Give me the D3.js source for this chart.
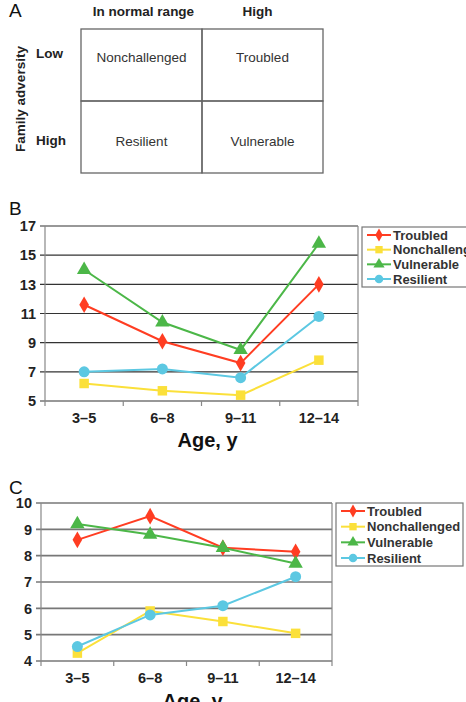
<!DOCTYPE html>
<html>
<head>
<meta charset="utf-8">
<script src="https://cdn.jsdelivr.net/npm/d3@7"></script>
<style>
  body { margin: 0; background: #fff; }
  svg { display: block; font-family: "Liberation Sans", Arial, sans-serif; }
  .tick-label { font-weight: bold; font-size: 14.5px; fill: #222; }
  .legend-text { font-weight: bold; font-size: 13px; fill: #333; }
</style>
</head>
<body>
<div id="wrapper"></div>
<script>
// 1. Data

const ageGroups = ['3–5', '6–8', '9–11', '12–14'];
const seriesNames = ['Troubled', 'Nonchallenged', 'Vulnerable', 'Resilient'];
const seriesColors = ['#ff3d22', '#fbe03a', '#4cb748', '#5cc8e2'];
const seriesShapes = ['diamond', 'square', 'triangle', 'circle'];

// panel B
const troubledB = [11.6, 9.1, 7.6, 13.0];
const nonchallengedB = [6.2, 5.7, 5.4, 7.8];
const vulnerableB = [14.0, 10.4, 8.5, 15.8];
const resilientB = [7.0, 7.2, 6.6, 10.8];
const yTicksB = [5, 7, 9, 11, 13, 15, 17];

// panel C
const troubledC = [8.6, 9.5, 8.3, 8.15];
const nonchallengedC = [4.3, 5.9, 5.5, 5.05];
const vulnerableC = [9.2, 8.8, 8.3, 7.7];
const resilientC = [4.55, 5.75, 6.1, 7.2];
const yTicksC = [4, 5, 6, 7, 8, 9, 10];

// panel A
const symptomLevels = ['In normal range', 'High'];
const adversityLevels = ['Low', 'High'];
const quadrantNames = [['Nonchallenged', 'Troubled'], ['Resilient', 'Vulnerable']];

// 2. Canvas

const svg = d3.select('#wrapper')
  .append('svg')
    .attr('width', 466)
    .attr('height', 702);

const panelLetter = (x, y, t) => svg.append('text')
    .attr('x', x).attr('y', y)
    .attr('font-size', 19)
    .attr('fill', '#111')
    .text(t);

// 3. Panel A - quadrant table

panelLetter(9, 17, 'A');

const colScale = d3.scaleBand().domain(symptomLevels).range([81, 323]);
const rowScale = d3.scaleBand().domain(adversityLevels).range([29, 173]);

const tableGroup = svg.append('g');

tableGroup.selectAll('.col-head')
  .data(symptomLevels)
  .join('text')
    .attr('x', (d, i) => colScale(d) + colScale.bandwidth() / 2 + (i === 0 ? 2 : -5))
    .attr('y', 16)
    .attr('text-anchor', 'middle')
    .attr('font-weight', 'bold')
    .attr('font-size', 13.5)
    .attr('fill', '#222')
    .text(d => d);

tableGroup.selectAll('.row-head')
  .data(adversityLevels)
  .join('text')
    .attr('x', 36)
    .attr('y', (d, i) => rowScale(d) + (i === 0 ? 29 : 44))
    .attr('font-weight', 'bold')
    .attr('font-size', 13.5)
    .attr('fill', '#222')
    .text(d => d);

tableGroup.append('text')
    .attr('transform', 'translate(25, 99) rotate(-90)')
    .attr('text-anchor', 'middle')
    .attr('font-weight', 'bold')
    .attr('font-size', 13.5)
    .attr('fill', '#222')
    .text('Family adversity');

const cells = d3.merge(adversityLevels.map((r, ri) =>
  symptomLevels.map((c, ci) => ({ r, c, name: quadrantNames[ri][ci] }))));

tableGroup.selectAll('.cell')
  .data(cells)
  .join('rect')
    .attr('x', d => colScale(d.c))
    .attr('y', d => rowScale(d.r))
    .attr('width', colScale.bandwidth())
    .attr('height', rowScale.bandwidth())
    .attr('fill', 'none')
    .attr('stroke', '#666')
    .attr('stroke-width', 1.3);

tableGroup.selectAll('.cell-text')
  .data(cells)
  .join('text')
    .attr('x', d => colScale(d.c) + colScale.bandwidth() / 2)
    .attr('y', (d, i) => rowScale(d.r) + (i < 2 ? 33 : 45))
    .attr('text-anchor', 'middle')
    .attr('font-size', 13.5)
    .attr('fill', '#333')
    .text(d => d.name);

// 4. Line panels

const symbolTypes = {
  diamond: d3.symbolDiamond,
  square: d3.symbolSquare,
  triangle: d3.symbolTriangle,
  circle: d3.symbolCircle
};
const symbolSizes = { diamond: 80, square: 90, triangle: 90, circle: 95 };

function drawPanel(cfg) {
  const g = svg.append('g');

  const xScale = d3.scaleBand()
    .domain(ageGroups)
    .range([cfg.left, cfg.right]);

  const yScale = d3.scaleLinear()
    .domain(d3.extent(cfg.yTicks))
    .range([cfg.bottom, cfg.top]);

  // gridlines
  g.selectAll('.grid')
    .data(cfg.yTicks)
    .join('line')
      .attr('x1', cfg.left - 5)
      .attr('x2', cfg.right)
      .attr('y1', d => yScale(d))
      .attr('y2', d => yScale(d))
      .attr('stroke', cfg.gridColor)
      .attr('stroke-width', cfg.gridWidth);

  // frame sides
  g.append('line')
      .attr('x1', cfg.left).attr('x2', cfg.left)
      .attr('y1', cfg.top).attr('y2', cfg.bottom)
      .attr('stroke', '#888').attr('stroke-width', 1.2);
  g.append('line')
      .attr('x1', cfg.right).attr('x2', cfg.right)
      .attr('y1', cfg.top).attr('y2', cfg.bottom)
      .attr('stroke', '#888').attr('stroke-width', 1.2);

  // x ticks at band edges
  const edges = ageGroups.map(d => xScale(d)).concat([cfg.right]);
  g.selectAll('.xtick')
    .data(edges)
    .join('line')
      .attr('x1', d => d).attr('x2', d => d)
      .attr('y1', cfg.bottom).attr('y2', cfg.bottom + 5)
      .attr('stroke', '#888').attr('stroke-width', 1.2);

  g.selectAll('.ylabel')
    .data(cfg.yTicks)
    .join('text')
      .attr('class', 'tick-label')
      .attr('x', cfg.left - 9)
      .attr('y', d => yScale(d))
      .attr('dy', '0.36em')
      .attr('text-anchor', 'end')
      .attr('font-size', 15)
      .text(d => d);

  g.selectAll('.xlabel')
    .data(ageGroups)
    .join('text')
      .attr('class', 'tick-label')
      .attr('x', d => xScale(d) + xScale.bandwidth() / 2)
      .attr('y', cfg.bottom + 17)
      .attr('dy', '0.36em')
      .attr('text-anchor', 'middle')
      .text(d => d);

  g.append('text')
      .attr('x', (cfg.left + cfg.right) / 2 + 6)
      .attr('y', cfg.titleY)
      .attr('text-anchor', 'middle')
      .attr('font-weight', 'bold')
      .attr('font-size', 20)
      .attr('fill', '#111')
      .text('Age, y');

  const lineGen = d3.line()
    .x((d, i) => xScale(ageGroups[i]) + xScale.bandwidth() / 2)
    .y(d => yScale(d));

  cfg.series.forEach((values, s) => {
    g.append('path')
        .attr('d', lineGen(values))
        .attr('fill', 'none')
        .attr('stroke', seriesColors[s])
        .attr('stroke-width', 2);

    g.selectAll('.m' + s)
      .data(values)
      .join('path')
        .attr('transform', (d, i) =>
          `translate(${xScale(ageGroups[i]) + xScale.bandwidth() / 2}, ${yScale(d)})`)
        .attr('d', d3.symbol(symbolTypes[seriesShapes[s]], symbolSizes[seriesShapes[s]]))
        .attr('fill', seriesColors[s]);
  });

  // legend
  const lg = g.append('g');
  lg.append('rect')
      .attr('x', cfg.legendX)
      .attr('y', cfg.legendY)
      .attr('width', cfg.legendW)
      .attr('height', cfg.legendH)
      .attr('fill', '#fff')
      .attr('stroke', '#777')
      .attr('stroke-width', 1.2);

  const rowGap = (cfg.legendH - 16) / 3;
  seriesNames.forEach((name, s) => {
    const ly = cfg.legendY + 8 + rowGap * s;
    const lx = cfg.legendX + 5;
    lg.append('line')
        .attr('x1', lx).attr('x2', lx + 24)
        .attr('y1', ly).attr('y2', ly)
        .attr('stroke', seriesColors[s])
        .attr('stroke-width', 2);
    lg.append('path')
        .attr('transform', `translate(${lx + 12}, ${ly})`)
        .attr('d', d3.symbol(symbolTypes[seriesShapes[s]], symbolSizes[seriesShapes[s]] * 0.6))
        .attr('fill', seriesColors[s]);
    lg.append('text')
        .attr('class', 'legend-text')
        .attr('x', lx + 26)
        .attr('y', ly)
        .attr('dy', '0.36em')
        .text(name);
  });
}

panelLetter(9, 215, 'B');
drawPanel({
  left: 45, right: 358, top: 226, bottom: 401,
  yTicks: yTicksB,
  series: [troubledB, nonchallengedB, vulnerableB, resilientB],
  gridColor: '#333', gridWidth: 1.1,
  titleY: 447,
  legendX: 362, legendY: 227, legendW: 120, legendH: 60
});

panelLetter(9, 494, 'C');
drawPanel({
  left: 41, right: 332, top: 503, bottom: 661,
  yTicks: yTicksC,
  series: [troubledC, nonchallengedC, vulnerableC, resilientC],
  gridColor: '#777', gridWidth: 1.6,
  titleY: 708,
  legendX: 336, legendY: 503, legendW: 127, legendH: 63
});
</script>
</body>
</html>
